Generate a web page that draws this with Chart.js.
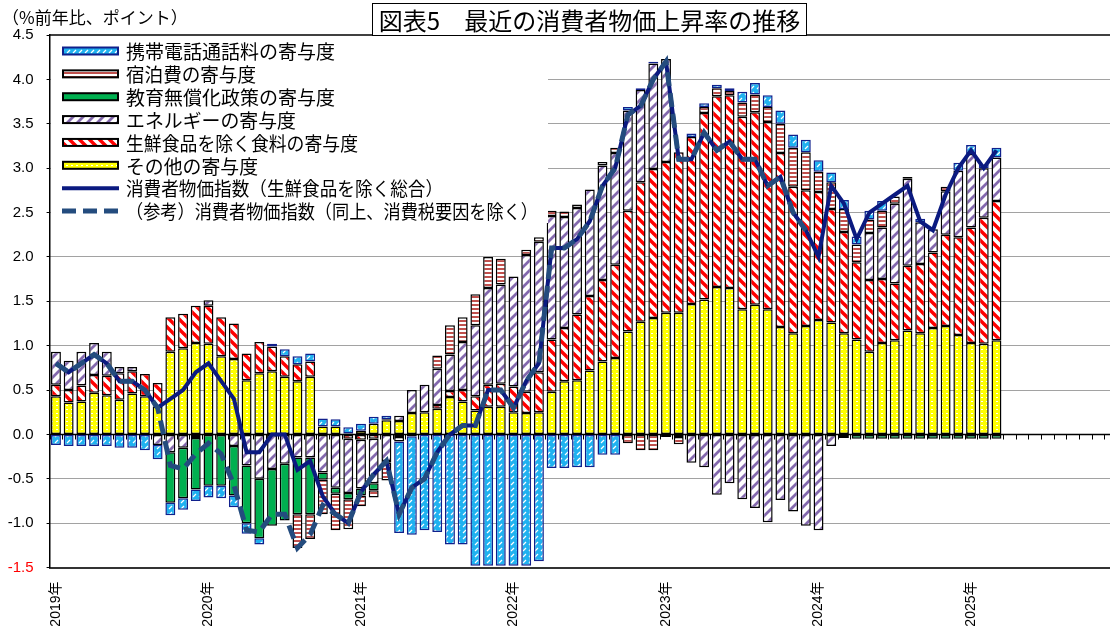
<!DOCTYPE html>
<html lang="ja">
<head>
<meta charset="utf-8">
<script src="https://cdn.jsdelivr.net/npm/chart.js@4.4.1/dist/chart.umd.min.js"></script>
<style>
  html, body { margin: 0; padding: 0; background: #fff; overflow: hidden; width: 1110px; height: 627px; }
  #wrap { position: relative; width: 1110px; height: 627px; overflow: hidden; }
  #cv { position: absolute; left: 0; top: 0; }
  #unit { position: absolute; left: 2px; top: 4px; font: 17px "Noto Sans CJK JP", sans-serif; color: #000; white-space: nowrap; }
  #title { position: absolute; left: 372px; top: 3px; width: 433px; height: 31px; border: 1.5px solid #000; background: #fff;
           font: 24px "Noto Sans CJK JP", sans-serif; color: #000; display: flex; align-items: center; justify-content: center; white-space: nowrap; }
</style>
</head>
<body>
<div id="wrap">
  <canvas id="cv" width="1122" height="627" style="width:1122px;height:627px"></canvas>
  <div id="unit">（%前年比、ポイント）</div>
  <div id="title">図表5　最近の消費者物価上昇率の推移</div>
</div>
<script>
// ---- categories: monthly, Jan 2019 – Dec 2025 ----
const years = [2019, 2020, 2021, 2022, 2023, 2024, 2025];
const yearTickLabels = ['2019年', '2020年', '2021年', '2022年', '2023年', '2024年', '2025年'];
const months = [];
years.forEach(y => { for (let m = 1; m <= 12; m++) months.push(y + '/' + m); });

// ---- contributions (percentage points), Jan 2019 – Mar 2025 ----
const otherItems = [
  0.43, 0.36, 0.37, 0.47, 0.44, 0.39, 0.46, 0.43, 0.31, 0.93, 0.97, 1.03,
  1.02, 0.88, 0.85, 0.61, 0.69, 0.71, 0.65, 0.60, 0.65, 0.09, 0.09, 0.01,
  0.04, 0.12, 0.16, 0.15, 0.24, 0.25, 0.29, 0.42, 0.37, 0.27, 0.31, 0.31,
  0.25, 0.24, 0.25, 0.48, 0.60, 0.61, 0.72, 0.82, 0.86, 1.16, 1.27, 1.31,
  1.37, 1.37, 1.47, 1.52, 1.66, 1.65, 1.41, 1.46, 1.41, 1.21, 1.14, 1.22,
  1.29, 1.26, 1.14, 1.07, 0.93, 1.03, 1.06, 1.17, 1.14, 1.20, 1.22, 1.12,
  1.03, 1.02, 1.06
];
const foodExFresh = [
  0.13, 0.14, 0.18, 0.20, 0.22, 0.30, 0.25, 0.25, 0.27, 0.39, 0.39, 0.42,
  0.43, 0.44, 0.40, 0.30, 0.35, 0.28, 0.23, 0.19, 0.17, 0.00, 0.00, -0.05,
  -0.06, -0.05, 0.01, -0.03, -0.02, 0.00, 0.04, 0.07, 0.13, 0.16, 0.25, 0.26,
  0.29, 0.24, 0.45, 0.59, 0.60, 0.74, 0.84, 0.92, 1.05, 1.36, 1.57, 1.68,
  1.70, 1.81, 1.88, 2.10, 2.15, 2.17, 2.17, 2.17, 2.11, 1.96, 1.65, 1.53,
  1.44, 1.28, 1.14, 0.87, 0.81, 0.72, 0.64, 0.73, 0.78, 0.85, 1.03, 1.10,
  1.30, 1.42, 1.57
];
const energy = [
  0.37, 0.33, 0.38, 0.36, 0.27, 0.07, 0.05, 0.00, -0.12, -0.20, -0.15, -0.04,
  0.06, 0.00, -0.13, -0.35, -0.50, -0.39, -0.33, -0.26, -0.26, -0.43, -0.60, -0.61,
  -0.55, -0.50, -0.30, 0.06, 0.26, 0.31, 0.41, 0.41, 0.54, 0.80, 1.09, 1.12,
  1.24, 1.54, 1.47, 1.39, 1.25, 1.20, 1.20, 1.29, 1.26, 1.13, 1.04, 1.19,
  1.16, -0.03, -0.32, -0.37, -0.68, -0.55, -0.73, -0.83, -0.99, -0.74, -0.87, -1.03,
  -1.08, -0.13, -0.04, 0.00, 0.53, 0.58, 0.90, 0.98, 0.47, 0.26, 0.49, 0.75,
  0.83, 0.56, 0.49
];
const freeEducation = [
  0, 0, 0, 0, 0, 0, 0, 0, 0, -0.57, -0.57, -0.58,
  -0.58, -0.58, -0.56, -0.65, -0.67, -0.64, -0.64, -0.64, -0.64, -0.08, -0.07, -0.07,
  -0.08, -0.08, -0.02, 0, 0, 0, 0, 0, 0, 0, 0, 0,
  0, 0, 0, 0, 0, 0, 0, 0, 0, 0, 0, 0,
  0, 0, 0, 0, 0, 0, 0, 0, 0, 0, 0, 0,
  0, 0, 0, -0.05, -0.05, -0.05, -0.05, -0.05, -0.05, -0.05, -0.05, -0.05,
  -0.05, -0.05, -0.05
];
const lodging = [
  0, 0, 0, 0, 0, 0, 0, 0, 0, 0, 0, 0,
  0, 0, 0, 0, 0, 0, 0, -0.38, -0.28, -0.39, -0.41, -0.34,
  -0.12, -0.08, -0.20, -0.05, 0, 0, 0.15, 0.33, 0.28, 0.35, 0.35, 0.29,
  0, 0.06, 0.05, 0.06, 0.06, 0.04, 0, 0.04, 0.06, -0.10, -0.18, -0.18,
  -0.03, -0.08, 0, 0.07, 0.09, 0.05, 0.16, 0.20, 0.17, 0.33, 0.44, 0.43,
  0.23, 0.30, 0.26, 0.20, 0.15, 0.19, 0.08, 0.02, 0, 0, 0.05, 0,
  0, 0, 0
];
const mobileCalls = [
  -0.12, -0.13, -0.13, -0.13, -0.13, -0.15, -0.15, -0.18, -0.16, -0.14, -0.13, -0.13,
  -0.13, -0.14, -0.13, -0.12, -0.07, 0.03, 0.08, 0.09, 0.09, 0.09, 0.08, 0.07,
  0.08, 0.08, 0.04, -1.03, -1.11, -1.08, -1.10, -1.24, -1.24, -1.48, -1.48, -1.48,
  -1.48, -1.48, -1.43, -0.38, -0.38, -0.37, -0.37, -0.23, -0.23, 0.04, 0.02, 0.02,
  0, 0, 0.04, 0.04, 0.04, 0.03, 0.12, 0.13, 0.13, 0.15, 0.15, 0.14,
  0.13, 0.11, 0.10, 0.09, 0.10, 0.11, 0, 0, 0.04, 0, 0, 0.09,
  0.10, 0.04, 0.11
];

// ---- CPI less fresh food, y/y % ----
const coreCPI = [
  0.8, 0.7, 0.8, 0.9, 0.8, 0.6, 0.6, 0.5, 0.3, 0.4, 0.5, 0.7,
  0.8, 0.6, 0.4, -0.2, -0.2, 0.0, 0.0, -0.4, -0.3, -0.7, -0.9, -1.0,
  -0.65, -0.45, -0.3, -0.9, -0.6, -0.5, -0.2, 0.0, 0.1, 0.1, 0.5, 0.5,
  0.3, 0.6, 0.8, 2.1, 2.1, 2.2, 2.4, 2.8, 3.0, 3.6, 3.7, 4.0,
  4.2, 3.1, 3.1, 3.4, 3.2, 3.3, 3.1, 3.1, 2.8, 2.9, 2.5, 2.3,
  2.0, 2.8, 2.6, 2.2, 2.5, 2.6, 2.7, 2.8, 2.4, 2.3, 2.7, 3.0,
  3.2, 3.0, 3.2
];
// same, excluding consumption-tax effects (Jan 2019 – Dec 2023)
const coreCPIexTax = [
  0.8, 0.7, 0.8, 0.9, 0.8, 0.6, 0.6, 0.5, 0.3, -0.35, -0.39, -0.22,
  -0.1, -0.22, -0.57, -1.08, -1.1, -0.9, -0.9, -1.28, -1.13, -0.8, -0.9, -1.0,
  -0.65, -0.45, -0.3, -0.9, -0.6, -0.5, -0.2, 0.0, 0.1, 0.1, 0.5, 0.5,
  0.3, 0.6, 0.8, 2.1, 2.1, 2.2, 2.4, 2.8, 3.0, 3.6, 3.7, 4.0,
  4.2, 3.1, 3.1, 3.4, 3.2, 3.3, 3.1, 3.1, 2.8, 2.9, 2.5, 2.3
];

const pad = arr => months.map((_, i) => (i < arr.length ? arr[i] : null));

// ---- fill patterns ----
const cv = document.getElementById('cv');
const mainCtx = cv.getContext('2d');
function tile(w, h, paint) {
  const c = document.createElement('canvas');
  c.width = w; c.height = h;
  paint(c.getContext('2d'), w, h);
  return mainCtx.createPattern(c, 'repeat');
}
const patOther = tile(5, 4, (g, w, h) => {
  g.fillStyle = '#FFFF00'; g.fillRect(0, 0, w, h);
  g.fillStyle = '#FFFFFF'; g.fillRect(1, 1, 2, 1);
});
const diag = (g, s, color, lw, rising) => {
  g.fillStyle = '#FFFFFF'; g.fillRect(0, 0, s, s);
  g.strokeStyle = color; g.lineWidth = lw; g.lineCap = 'square';
  g.beginPath();
  for (let k = -1; k <= 1; k++) {
    if (rising) { g.moveTo(k * s, s); g.lineTo(k * s + s, 0); }
    else { g.moveTo(k * s, 0); g.lineTo(k * s + s, s); }
  }
  g.stroke();
};
const patFood = tile(10, 10, (g, w) => diag(g, w, '#FF0000', 3.4, false));
const patEnergy = tile(10, 10, (g, w) => diag(g, w, '#8469AE', 2.8, true));
const patLodging = tile(4, 4, (g, w, h) => {
  g.fillStyle = '#FFFFFF'; g.fillRect(0, 0, w, h);
  g.fillStyle = '#C0504D'; g.fillRect(0, 0, w, 2);
});
const patMobile = tile(6, 6, (g, w, h) => {
  g.fillStyle = '#1FB2F0'; g.fillRect(0, 0, w, h);
  g.strokeStyle = '#FFFFFF'; g.lineWidth = 1.3;
  g.beginPath(); g.moveTo(1, 5); g.lineTo(4, 2); g.stroke();
});

const barBase = {
  type: 'bar', stack: 'contrib', order: 1,
  borderWidth: 1.5, borderSkipped: false,
  barPercentage: 0.78, categoryPercentage: 1.0
};

// zero axis with small category ticks (under the bars) and the top frame line
const zeroAxis = {
  id: 'zeroAxis',
  beforeDatasetsDraw(chart) {
    const { ctx, chartArea: a, scales: { x, y } } = chart;
    const y0 = Math.round(y.getPixelForValue(0)) + 0.5;
    const half = (x.getPixelForValue(1) - x.getPixelForValue(0)) / 2;
    ctx.save();
    ctx.strokeStyle = '#000';
    ctx.lineWidth = 1;
    ctx.beginPath();
    for (let i = 0; i <= months.length; i++) {
      const px = Math.round(x.getPixelForValue(i) - half) + 0.5;
      ctx.moveTo(px, y0); ctx.lineTo(px, y0 + 5);
    }
    ctx.stroke();
    ctx.lineWidth = 1.5;
    ctx.beginPath(); ctx.moveTo(a.left, y0); ctx.lineTo(a.right, y0); ctx.stroke();
    const yTop = y.getPixelForValue(4.5);
    ctx.beginPath(); ctx.moveTo(a.left, yTop); ctx.lineTo(a.right + 10, yTop); ctx.stroke();
    ctx.restore();
  }
};

// boxed legend drawn inside the plot, top-left; widths keep each label on one line
const legendWidths = [212, 130, 211, 170, 232, 132, 317, 412];
const boxLegend = {
  id: 'boxLegend',
  afterDraw(chart) {
    const { ctx } = chart;
    const ds = chart.data.datasets;
    const order = [7, 6, 5, 4, 3, 2, 1, 0];
    ctx.save();
    ctx.fillStyle = '#FFFFFF';
    ctx.fillRect(51, 37, 497, 186);
    ctx.font = '19px "Noto Sans CJK JP"';
    ctx.textBaseline = 'middle';
    order.forEach((idx, k) => {
      const d = ds[idx];
      const cy = 51 + k * 22.86;
      if (d.type === 'bar') {
        ctx.fillStyle = d.backgroundColor;
        ctx.fillRect(63, cy - 3.5, 55, 7);
        ctx.lineWidth = 2;
        ctx.strokeStyle = d.borderColor;
        ctx.strokeRect(63, cy - 3.5, 55, 7);
      } else {
        ctx.lineWidth = d.borderWidth;
        ctx.strokeStyle = d.borderColor;
        ctx.setLineDash(d.borderDash || []);
        ctx.beginPath(); ctx.moveTo(62, cy); ctx.lineTo(119, cy); ctx.stroke();
        ctx.setLineDash([]);
      }
      ctx.fillStyle = '#000';
      const natural = ctx.measureText(d.label).width;
      ctx.fillText(d.label, 126, cy + 1, Math.min(natural, legendWidths[k]));
    });
    ctx.restore();
  }
};

new Chart(cv, {
  data: {
    labels: months,
    datasets: [
      { type: 'line', label: '（参考）消費者物価指数（同上、消費税要因を除く）', data: pad(coreCPIexTax),
        borderColor: '#244C7E', borderWidth: 5, borderDash: [14, 7], pointRadius: 0,
        fill: false, stack: 'exTax', order: 0, tension: 0 },
      { type: 'line', label: '消費者物価指数（生鮮食品を除く総合）', data: pad(coreCPI),
        borderColor: '#0B1A80', borderWidth: 4, pointRadius: 0,
        fill: false, stack: 'core', order: 0, tension: 0 },
      { ...barBase, label: 'その他の寄与度', data: pad(otherItems), backgroundColor: patOther, borderColor: '#000' },
      { ...barBase, label: '生鮮食品を除く食料の寄与度', data: pad(foodExFresh), backgroundColor: patFood, borderColor: '#000' },
      { ...barBase, label: 'エネルギーの寄与度', data: pad(energy), backgroundColor: patEnergy, borderColor: '#000' },
      { ...barBase, label: '教育無償化政策の寄与度', data: pad(freeEducation), backgroundColor: '#00B050', borderColor: '#000' },
      { ...barBase, label: '宿泊費の寄与度', data: pad(lodging), backgroundColor: patLodging, borderColor: '#000' },
      { ...barBase, label: '携帯電話通話料の寄与度', data: pad(mobileCalls), backgroundColor: patMobile, borderColor: '#10208C' }
    ]
  },
  options: {
    responsive: false,
    animation: false,
    devicePixelRatio: 1,
    layout: { padding: { left: 0, right: 4.8, top: 35, bottom: 0 }, autoPadding: false },
    plugins: { legend: { display: false }, tooltip: { enabled: false }, title: { display: false } },
    scales: {
      x: {
        type: 'category',
        grid: { display: false },
        border: { display: true, color: '#333', width: 2 },
        ticks: {
          autoSkip: false, maxRotation: 90, minRotation: 90, padding: 6, color: '#000',
          font: { size: 14, family: '"Liberation Sans", "Noto Sans CJK JP"' },
          callback: (v, i) => (i % 12 === 0 ? yearTickLabels[i / 12] : '')
        },
        afterFit: s => { s.height = 59.5; s.paddingLeft = 0; s.paddingRight = 0; }
      },
      y: {
        stacked: true, min: -1.5, max: 4.5,
        ticks: {
          stepSize: 0.5, padding: 13,
          font: { size: 15, family: '"Liberation Sans"' },
          color: c => (c.tick && c.tick.value === -1.5 ? '#FF0000' : '#000'),
          callback: v => Number(v).toFixed(1)
        },
        grid: {
          color: c => (c.tick && [-1.5, 0, 4.5].includes(c.tick.value) ? 'rgba(0,0,0,0)' : '#444'),
          lineWidth: 1, tickColor: '#000', tickLength: 3, drawTicks: true
        },
        border: { display: true, color: '#000', width: 1.5, dash: [1, 1] },
        afterFit: s => { s.width = 49.6; s.paddingTop = 0; s.paddingBottom = 0; }
      }
    }
  },
  plugins: [zeroAxis, boxLegend]
});
</script>
</body>
</html>
